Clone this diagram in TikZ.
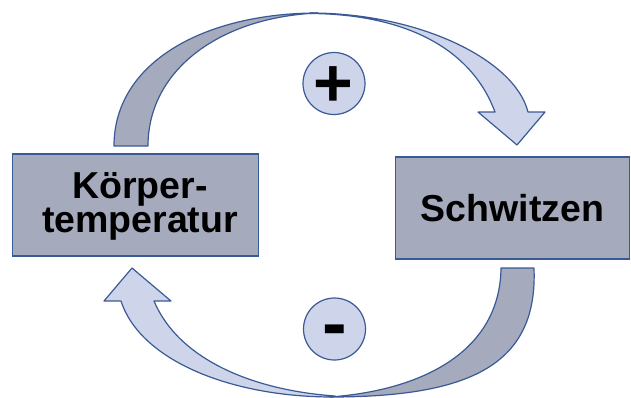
\documentclass[tikz,border=0pt]{standalone}
\usepackage{fontspec}
\setmainfont{Liberation Sans}
\definecolor{darkfill}{HTML}{A5ABBD}
\definecolor{lightfill}{HTML}{CED5EA}
\definecolor{edge}{HTML}{3A5A96}
\begin{document}
\begin{tikzpicture}[x=1pt,y=-1pt,
  boxstyle/.style={draw=edge,line width=1.5pt,fill=darkfill,inner sep=0pt,
    font=\bfseries\fontsize{37.5}{34}\selectfont,align=center},
  darkpart/.style={draw=edge,line width=1.2pt,fill=darkfill,line join=round},
  lightpart/.style={draw=edge,line width=1.2pt,fill=lightfill,line join=round},
  signcircle/.style={circle,draw=edge,line width=1.2pt,fill=lightfill,minimum size=62pt,inner sep=0pt},
  signtext/.style={inner sep=0pt,font=\bfseries}]
\useasboundingbox (0,0) rectangle (631,397);
% boxes
\node[boxstyle,minimum width=246pt,minimum height=102pt] (koerper) at (135.5,205) {};
\node[boxstyle,fill=none,draw=none] (koerpertext) at (140,206) {Körper-\\temperatur};
\node[boxstyle,minimum width=234pt,minimum height=102pt] (schwitzen) at (512.5,208) {Schwitzen};
% top arrow: light part
\draw[lightpart] (310,13) .. controls (420,13) and (515,60) .. (528,112)
  -- (545,112) -- (517,145) -- (478,112) -- (495,112)
  .. controls (470,45) and (400,14) .. (310,13.5) -- cycle;
% top arrow: dark part
\draw[darkpart] (114,146) .. controls (114,62) and (205,13) .. (318,13)
  .. controls (220,17) and (148,70) .. (148,146) -- cycle;
% bottom arrow: light part
\draw[lightpart] (333,397) .. controls (230,397) and (140,360) .. (121,301)
  -- (104,301) -- (132,268) -- (171,301) -- (154,301)
  .. controls (178,358) and (250,390) .. (335,396) -- cycle;
% bottom arrow: dark part
\draw[darkpart] (534,268) .. controls (538,365) and (470,397) .. (330,397)
  .. controls (425,390) and (500,350) .. (501,268) -- cycle;
% sign circles
\node[signcircle] (pluscircle) at (334,83.5) {};
\node[signcircle] (minuscircle) at (334.5,329) {};
\node[signtext,font=\bfseries\fontsize{68}{68}\selectfont] (plus) at (333.5,87) {+};
\node[signtext,font=\bfseries\fontsize{74}{74}\selectfont] (minus) at (335,337) {-};
\end{tikzpicture}
\end{document}
